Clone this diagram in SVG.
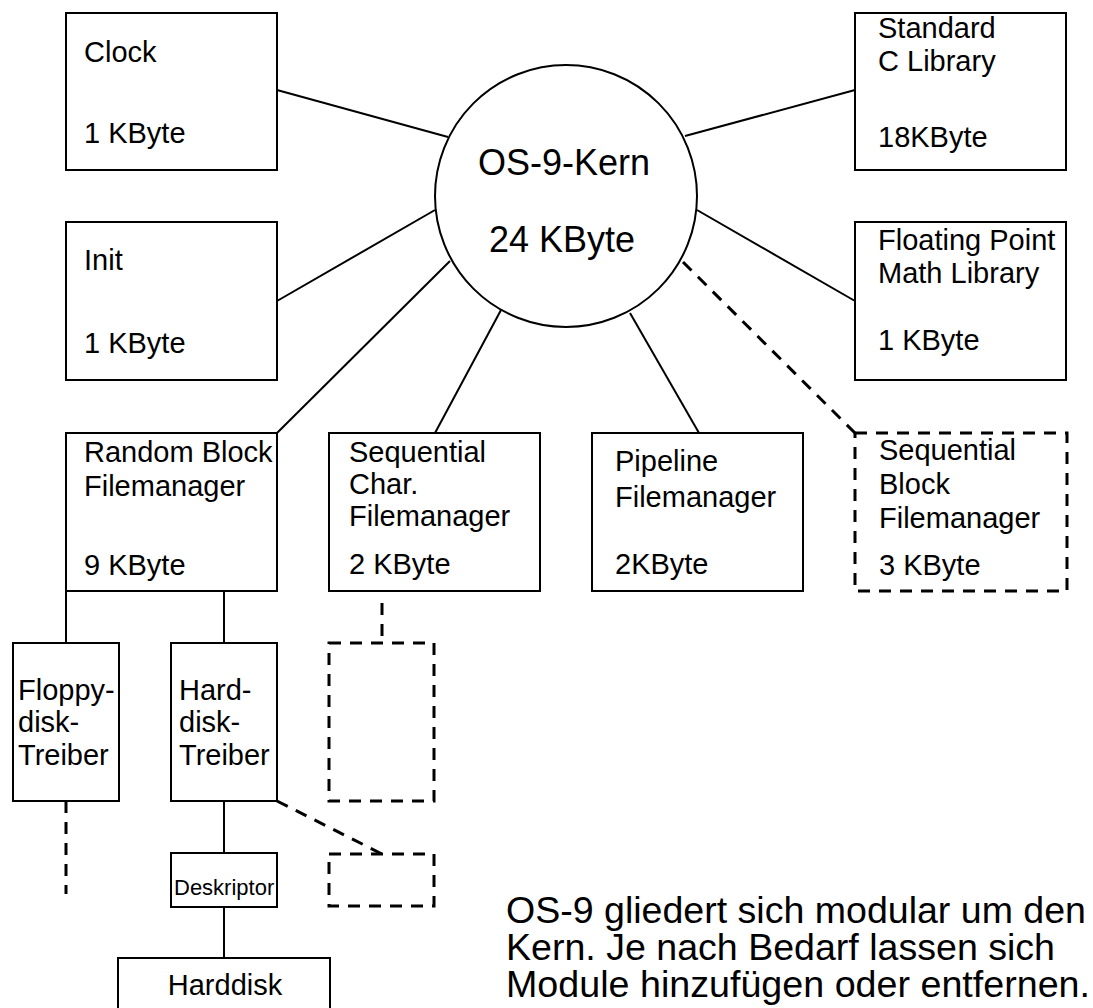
<svg xmlns="http://www.w3.org/2000/svg" width="1093" height="1008" viewBox="0 0 1093 1008">
<style>
.box{fill:#fff;stroke:#000;stroke-width:2}
.dbox{fill:none;stroke:#000;stroke-width:3;stroke-dasharray:12 9}
.ln{stroke:#000;stroke-width:2;fill:none}
.dln{stroke:#000;stroke-width:3;fill:none;stroke-dasharray:12 9}
text{font-family:"Liberation Sans",Arial,sans-serif;fill:#000}
.t{font-size:29px}
.s{font-size:22px}
.k{font-size:36px}
.p{font-size:36px}
</style>
<rect width="1093" height="1008" fill="#fff"/>
<g id="connectors">
<line class="ln" x1="277" y1="90" x2="448" y2="137"/>
<line class="ln" x1="277" y1="301" x2="435" y2="210"/>
<line class="ln" x1="277" y1="433" x2="450" y2="261"/>
<line class="ln" x1="435" y1="433" x2="501" y2="310"/>
<line class="ln" x1="630" y1="313" x2="699" y2="433"/>
<line class="ln" x1="685" y1="136" x2="855" y2="90"/>
<line class="ln" x1="697" y1="210" x2="855" y2="301"/>
<line class="dln" x1="683" y1="262" x2="855" y2="433"/>
<line class="ln" x1="66" y1="591" x2="66" y2="643"/>
<line class="ln" x1="224" y1="591" x2="224" y2="643"/>
<line class="dln" x1="66" y1="801" x2="66" y2="894"/>
<line class="ln" x1="224" y1="801" x2="224" y2="853"/>
<line class="ln" x1="224" y1="907" x2="224" y2="958"/>
<line class="dln" x1="382" y1="603" x2="382" y2="643"/>
<line class="dln" x1="277" y1="801" x2="382" y2="854"/>
</g>
<g id="kern">
<circle cx="566" cy="196" r="131" class="box"/>
<text class="k" x="564" y="175" text-anchor="middle">OS-9-Kern</text>
<text class="k" x="562" y="252" text-anchor="middle">24 KByte</text>
</g>
<g id="clock">
<rect class="box" x="66" y="13" width="211" height="157"/>
<text class="t" x="84" y="62">Clock</text>
<text class="t" x="84" y="143">1 KByte</text>
</g>
<g id="init">
<rect class="box" x="66" y="222" width="211" height="158"/>
<text class="t" x="84" y="270">Init</text>
<text class="t" x="84" y="353">1 KByte</text>
</g>
<g id="stdc">
<rect class="box" x="855" y="13" width="211" height="157"/>
<text class="t" x="878" y="38">Standard</text>
<text class="t" x="878" y="71">C Library</text>
<text class="t" x="878" y="147">18KByte</text>
</g>
<g id="fpmath">
<rect class="box" x="855" y="222" width="211" height="158"/>
<text class="t" x="878" y="250">Floating Point</text>
<text class="t" x="878" y="283">Math Library</text>
<text class="t" x="878" y="350">1 KByte</text>
</g>
<g id="rbf">
<rect class="box" x="66" y="433" width="211" height="158"/>
<text class="t" x="84" y="462">Random Block</text>
<text class="t" x="84" y="496">Filemanager</text>
<text class="t" x="84" y="575">9 KByte</text>
</g>
<g id="scf">
<rect class="box" x="329" y="433" width="211" height="158"/>
<text class="t" x="349" y="462">Sequential</text>
<text class="t" x="349" y="494">Char.</text>
<text class="t" x="349" y="526">Filemanager</text>
<text class="t" x="349" y="574">2 KByte</text>
</g>
<g id="pipe">
<rect class="box" x="592" y="433" width="211" height="158"/>
<text class="t" x="615" y="471">Pipeline</text>
<text class="t" x="615" y="507">Filemanager</text>
<text class="t" x="615" y="574">2KByte</text>
</g>
<g id="sbf">
<rect class="dbox" x="855" y="433" width="212" height="158"/>
<text class="t" x="879" y="460">Sequential</text>
<text class="t" x="879" y="494">Block</text>
<text class="t" x="879" y="528">Filemanager</text>
<text class="t" x="879" y="575">3 KByte</text>
</g>
<g id="floppy">
<rect class="box" x="13" y="643" width="106" height="158"/>
<text class="t" x="18" y="700">Floppy-</text>
<text class="t" x="18" y="732">disk-</text>
<text class="t" x="18" y="765">Treiber</text>
</g>
<g id="hard">
<rect class="box" x="171" y="643" width="106" height="158"/>
<text class="t" x="179" y="700">Hard-</text>
<text class="t" x="179" y="732">disk-</text>
<text class="t" x="179" y="765">Treiber</text>
</g>
<g id="scfdriver">
<rect class="dbox" x="329" y="643" width="105" height="158"/>
</g>
<g id="harddesc">
<rect class="dbox" x="329" y="854" width="105" height="52"/>
</g>
<g id="deskriptor">
<rect class="box" x="171" y="853" width="106" height="54"/>
<text class="s" x="174" y="895">Deskriptor</text>
</g>
<g id="harddisk">
<rect class="box" x="118" y="958" width="212" height="60"/>
<text class="t" x="225" y="995" text-anchor="middle">Harddisk</text>
</g>
<g id="caption">
<text class="p" x="506" y="923" textLength="580" lengthAdjust="spacingAndGlyphs">OS-9 gliedert sich modular um den</text>
<text class="p" x="506" y="960" textLength="549" lengthAdjust="spacingAndGlyphs">Kern. Je nach Bedarf lassen sich</text>
<text class="p" x="506" y="997" textLength="584" lengthAdjust="spacingAndGlyphs">Module hinzufügen oder entfernen.</text>
</g>
</svg>
